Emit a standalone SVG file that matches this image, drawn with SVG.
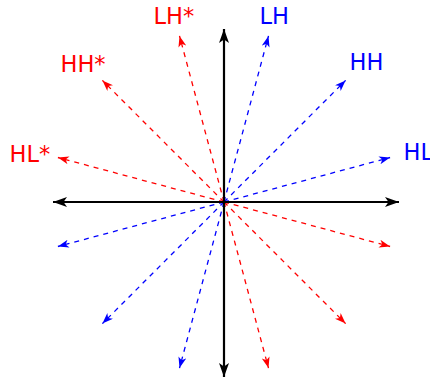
<svg xmlns="http://www.w3.org/2000/svg" width="430" height="378" viewBox="0 0 430 378">
<style>
.lbl{font-family:"DejaVu Sans",sans-serif;font-size:22.5px}
.r{fill:#ff0000}
.b{fill:#0000ff}
.dr{stroke:#ff0000;stroke-width:1.3;stroke-dasharray:5,5;fill:none;marker-end:url(#ar)}
.db{stroke:#0000ff;stroke-width:1.3;stroke-dasharray:5,5;fill:none;marker-end:url(#ab)}
.ax{stroke:#000;stroke-width:2.2;fill:none;marker-start:url(#ak);marker-end:url(#ak)}
</style>
<defs>
<marker id="ar" markerUnits="userSpaceOnUse" markerWidth="14" markerHeight="10" refX="11" refY="4" orient="auto">
<path d="M0,0 L11,4 L0,8 L3,4 z" fill="#ff0000"/>
</marker>
<marker id="ab" markerUnits="userSpaceOnUse" markerWidth="14" markerHeight="10" refX="11" refY="4" orient="auto">
<path d="M0,0 L11,4 L0,8 L3,4 z" fill="#0000ff"/>
</marker>
<marker id="ak" markerUnits="userSpaceOnUse" markerWidth="16" markerHeight="12" refX="14" refY="5" orient="auto-start-reverse">
<path d="M0,0 L14,5 L0,10 L3.5,5 z" fill="#000"/>
</marker>
</defs>
<g id="connectors">
<line class="db" x1="224" y1="202" x2="268.5" y2="35.9"/>
<line class="db" x1="224" y1="202" x2="345.6" y2="80.4"/>
<line class="db" x1="224" y1="202" x2="390.1" y2="157.5"/>
<line class="db" x1="224" y1="202" x2="57.9" y2="246.5"/>
<line class="db" x1="224" y1="202" x2="102.4" y2="323.6"/>
<line class="db" x1="224" y1="202" x2="179.5" y2="368.1"/>
<line class="dr" x1="224" y1="202" x2="179.5" y2="35.9"/>
<line class="dr" x1="224" y1="202" x2="102.4" y2="80.4"/>
<line class="dr" x1="224" y1="202" x2="57.9" y2="157.5"/>
<line class="dr" x1="224" y1="202" x2="390.1" y2="246.5"/>
<line class="dr" x1="224" y1="202" x2="345.6" y2="323.6"/>
<line class="dr" x1="224" y1="202" x2="268.5" y2="368.1"/>
<line class="ax" x1="53" y1="202" x2="399" y2="202"/>
<line class="ax" x1="224" y1="377" x2="224" y2="29"/>
</g>
<g id="LHs"><text class="lbl r" x="153.5" y="24">LH*</text></g>
<g id="LH"><text class="lbl b" x="259.5" y="24">LH</text></g>
<g id="HH"><text class="lbl b" x="349.5" y="70">HH</text></g>
<g id="HL"><text class="lbl b" x="403.5" y="160">HL</text></g>
<g id="HLs"><text class="lbl r" x="9.5" y="162">HL*</text></g>
<g id="HHs"><text class="lbl r" x="60.5" y="72">HH*</text></g>
</svg>
